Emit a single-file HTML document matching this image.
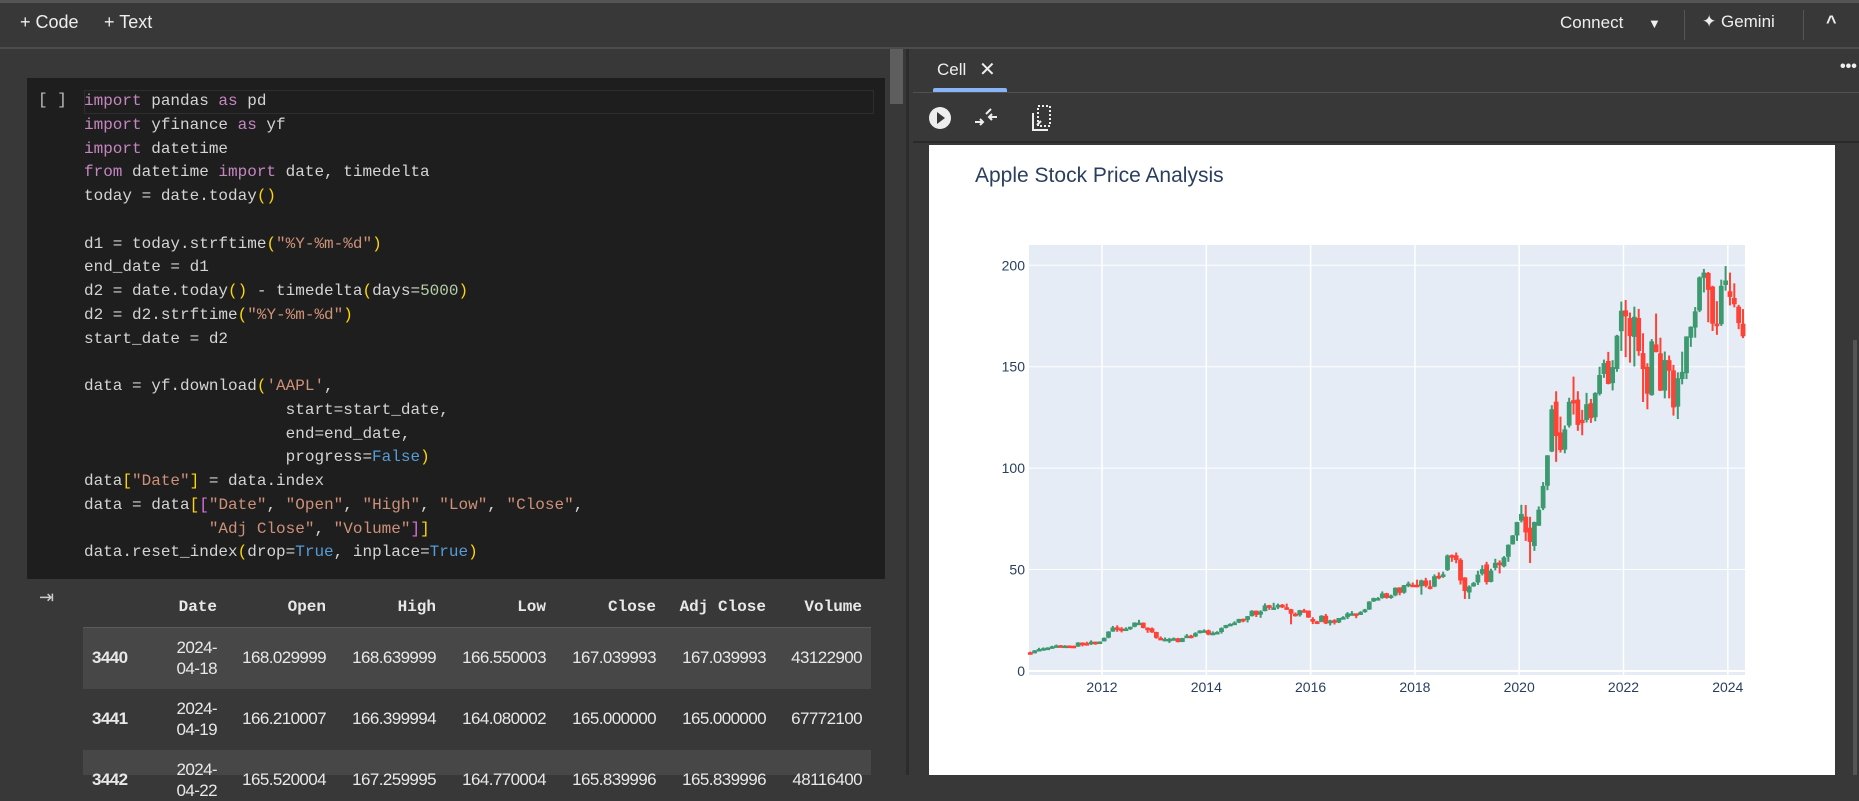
<!DOCTYPE html>
<html><head><meta charset="utf-8">
<style>
*{box-sizing:border-box;margin:0;padding:0}
body{width:1859px;height:775px;overflow:hidden;background:#383838;font-family:"Liberation Sans",sans-serif;position:relative;color:#e3e3e3}
.a{position:absolute}
.code{font-family:"Liberation Mono",monospace;font-size:16px;color:#d4d4d4;white-space:pre;line-height:23.75px}
.k{color:#c586c0}.s{color:#ce9178}.p{color:#ffd700}.n{color:#b5cea8}.b{color:#569cd6}.q{color:#da70d6}
.th{font-family:"Liberation Mono",monospace;font-weight:bold;font-size:16px;color:#e8e8e8;text-align:right}
.td{font-size:17px;color:#e8e8e8;text-align:right;letter-spacing:-0.6px}
</style></head><body>
<div class="a" style="left:0;top:0;width:1859px;height:3px;background:#555"></div>
<div class="a" style="left:20px;top:12px;font-size:18px;color:#eee">+ Code</div>
<div class="a" style="left:104px;top:12px;font-size:18px;color:#eee">+ Text</div>
<div class="a" style="left:1560px;top:13px;font-size:17px;color:#eee">Connect</div>
<div class="a" style="left:1648px;top:16px;font-size:13px;color:#eee">▼</div>
<div class="a" style="left:1684px;top:10px;width:1px;height:30px;background:#555"></div>
<div class="a" style="left:1702px;top:12px;font-size:17px;color:#eee">✦ Gemini</div>
<div class="a" style="left:1803px;top:10px;width:1px;height:30px;background:#555"></div>
<div class="a" style="left:1826px;top:12px;font-size:18px;color:#eee;font-weight:bold">^</div>
<div class="a" style="left:0;top:47px;width:1859px;height:2px;background:#4b4b4b"></div>

<div class="a" style="left:27px;top:78px;width:858px;height:501px;background:#1e1e1e"></div>
<div class="a" style="left:84px;top:90px;width:790px;height:24px;border:1px solid #2e2e2e"></div>
<div class="a" style="left:38px;top:91px;font-family:'Liberation Mono',monospace;font-size:16px;color:#bbb">[ ]</div>
<div class="a code" style="left:84px;top:90px"><span class="k">import</span> pandas <span class="k">as</span> pd
<span class="k">import</span> yfinance <span class="k">as</span> yf
<span class="k">import</span> datetime
<span class="k">from</span> datetime <span class="k">import</span> date, timedelta
today = date.today<span class="p">()</span>

d1 = today.strftime<span class="p">(</span><span class="s">"%Y-%m-%d"</span><span class="p">)</span>
end_date = d1
d2 = date.today<span class="p">()</span> - timedelta<span class="p">(</span>days=<span class="n">5000</span><span class="p">)</span>
d2 = d2.strftime<span class="p">(</span><span class="s">"%Y-%m-%d"</span><span class="p">)</span>
start_date = d2

data = yf.download<span class="p">(</span><span class="s">'AAPL'</span>,
                     start=start_date,
                     end=end_date,
                     progress=<span class="b">False</span><span class="p">)</span>
data<span class="p">[</span><span class="s">"Date"</span><span class="p">]</span> = data.index
data = data<span class="p">[</span><span class="q">[</span><span class="s">"Date"</span>, <span class="s">"Open"</span>, <span class="s">"High"</span>, <span class="s">"Low"</span>, <span class="s">"Close"</span>,
             <span class="s">"Adj Close"</span>, <span class="s">"Volume"</span><span class="q">]</span><span class="p">]</span>
data.reset_index<span class="p">(</span>drop=<span class="b">True</span>, inplace=<span class="b">True</span><span class="p">)</span></div>
<div class="a" style="left:890px;top:49px;width:13px;height:55px;background:#5e5e5e"></div>
<div class="a" style="left:906px;top:49px;width:3px;height:726px;background:#2c2c2c"></div>

<div class="a" style="left:39px;top:587px;font-size:18px;color:#ccc">⇥</div>
<div class="a" style="left:0;top:0">
<div class="a" style="left:83px;top:627px;width:788px;height:1px;background:#5a5a5a"></div>
<div class="a" style="left:83px;top:628px;width:788px;height:61px;background:#474747"></div>
<div class="a" style="left:83px;top:750px;width:788px;height:25px;background:#474747"></div>
<div class="a th" style="left:117px;top:598px;width:100px">Date</div>
<div class="a th" style="left:226px;top:598px;width:100px">Open</div>
<div class="a th" style="left:336px;top:598px;width:100px">High</div>
<div class="a th" style="left:446px;top:598px;width:100px">Low</div>
<div class="a th" style="left:556px;top:598px;width:100px">Close</div>
<div class="a th" style="left:656px;top:598px;width:110px">Adj Close</div>
<div class="a th" style="left:762px;top:598px;width:100px">Volume</div>
<div id="rows"></div>
</div>

<div class="a" style="left:937px;top:60px;font-size:17px;color:#eee">Cell</div>
<div class="a" style="left:979px;top:57px;font-size:20px;color:#eee">✕</div>
<div class="a" style="left:933px;top:88px;width:74px;height:4px;background:#8ab4f8;border-radius:2px 2px 0 0"></div>
<div class="a" style="left:1840px;top:58px;font-size:16px;color:#eee;font-weight:bold">•••</div>
<div class="a" style="left:913px;top:92px;width:946px;height:1px;background:#505050"></div>
<svg class="a" style="left:925px;top:105px" width="140" height="30">
<g><circle cx="15" cy="13" r="11" fill="#eee"/><path d="M12 7 L20 13 L12 19Z" fill="#383838"/></g>
<g stroke="#eee" stroke-width="2" fill="none"><path d="M50 17 L58 17 M55 14 L58 17 L55 20 M61 9 L66 4 M64 12 L72 12 M67 9 L64 12 L67 15"/></g>
<g stroke="#eee" stroke-width="2" fill="none"><rect x="113" y="1" width="12" height="20" stroke-dasharray="2 2"/><path d="M108 8 L108 25 L123 25"/><path d="M112 20 L116 16"/></g>
</svg>
<div class="a" style="left:913px;top:141px;width:946px;height:2px;background:#2a2a2a"></div>
<div class="a" style="left:929px;top:145px;width:906px;height:630px;background:#fff"></div>
<div class="a" style="left:1853px;top:340px;width:4px;height:435px;background:#555"></div>

<svg id="chart" class="a" style="left:0;top:0" width="1859" height="775">
<text x="975" y="182" font-family="Liberation Sans, sans-serif" font-size="21" fill="#2a3f5f">Apple Stock Price Analysis</text>
</svg>

<script>
const months=["2010-08","2010-09","2010-10","2010-11","2010-12"];
for(let y=2011;y<=2023;y++)for(let m=1;m<=12;m++)months.push(y+"-"+(m<10?"0":"")+m);
months.push("2024-01","2024-02","2024-03","2024-04");
const openVals=[9.2,8.7,10.1,10.8,11.2,
11.6,12.1,12.6,12.4,12.5,12.4,12.0,14.0,13.7,13.6,14.4,13.6,
14.6,16.4,19.4,21.5,20.9,20.6,21.0,21.8,23.7,23.8,21.3,21.0,
19.2,16.3,15.8,15.8,15.8,16.1,14.3,16.2,17.4,17.0,18.6,19.9,
20.0,17.9,18.8,19.2,21.2,22.6,23.3,23.8,25.7,25.2,27.0,29.7,
27.8,29.5,32.4,31.2,31.3,32.6,31.4,30.4,28.2,27.5,29.9,29.8,
25.6,24.4,24.2,27.2,23.5,25.0,23.9,26.1,26.5,28.3,28.4,27.6,
29.0,30.3,34.3,35.9,36.0,38.3,36.2,37.3,41.2,38.6,42.5,42.5,
42.5,41.8,44.6,41.7,41.6,46.9,46.4,49.8,57.1,57.0,54.8,46.1,
38.7,41.7,43.6,47.9,52.5,43.9,50.8,53.5,51.6,56.3,62.4,66.8,
74.1,76.1,70.6,61.6,71.6,80.2,91.3,108.2,132.8,117.6,109.1,121.0,
133.5,133.8,123.8,123.7,132.0,125.1,136.6,146.4,152.8,141.9,148.9,167.5,
177.8,174.0,164.7,174.0,156.7,149.9,136.0,161.0,156.6,138.2,153.2,148.2,
130.3,143.9,146.8,164.3,169.3,177.7,193.8,196.2,189.5,171.2,171.0,190.3,
187.2,183.9,179.6,171.2];
const highVals=[9.5,10.3,11.4,11.6,11.7,
12.4,13.0,12.8,12.7,12.6,12.5,14.2,14.1,14.4,15.1,14.5,14.6,
16.5,19.6,22.2,22.5,21.6,21.5,21.8,24.0,25.2,23.9,21.5,21.4,
19.3,17.0,16.5,16.3,16.5,16.3,16.3,18.2,17.8,19.1,20.1,20.5,
20.4,19.5,19.6,21.5,22.7,23.5,24.5,25.7,25.8,27.1,29.9,29.8,
29.9,33.3,32.6,33.6,33.2,33.0,33.2,30.6,28.8,30.1,30.6,29.8,
26.5,24.7,27.5,28.1,25.2,25.5,26.1,27.0,29.0,29.5,28.3,29.5,
30.6,34.4,36.1,36.4,39.2,38.5,37.6,41.2,41.2,42.4,44.1,43.6,
45.0,45.0,45.9,44.7,47.6,48.6,48.9,57.4,57.4,58.4,55.6,46.2,
42.2,43.9,49.4,52.1,53.8,50.4,55.3,54.5,56.6,62.4,67.0,73.5,
81.9,81.8,76.0,73.6,81.1,93.1,106.4,131.0,137.9,125.4,121.0,134.7,
145.1,137.9,128.7,137.1,134.1,137.4,150.0,153.5,157.3,153.2,165.7,182.1,
182.9,176.7,179.6,178.5,166.5,151.7,163.6,176.2,164.3,157.5,155.5,150.9,
147.2,157.4,165.0,169.9,179.4,194.5,198.2,196.7,189.9,182.3,192.9,199.6,
196.4,191.1,180.5,178.4];
const lowVals=[8.4,8.6,9.9,10.6,11.1,
11.6,12.0,11.8,11.9,11.8,11.3,11.9,12.1,12.9,12.8,12.9,13.6,
14.5,16.1,19.3,19.3,19.0,19.9,20.2,21.5,23.0,21.0,18.8,18.8,
15.9,15.4,15.0,13.8,15.4,14.1,14.2,16.2,16.1,16.7,18.5,19.5,
17.6,17.9,18.8,18.4,21.0,22.4,22.9,23.6,24.0,23.9,26.9,26.6,
26.2,29.4,30.1,30.8,30.5,31.0,30.1,23.0,26.8,26.8,29.0,26.2,
23.1,23.1,24.0,23.1,22.4,22.9,23.6,25.6,25.6,28.0,26.0,27.6,
28.7,30.1,34.0,35.0,35.6,35.6,35.6,36.8,37.3,38.1,41.3,41.6,
41.2,37.6,41.2,40.2,41.3,45.2,45.9,49.3,53.8,53.1,42.6,35.5,
35.5,41.5,42.4,47.1,42.6,43.7,49.6,48.1,51.1,53.8,62.3,64.1,
73.2,64.1,53.2,59.2,71.5,79.3,89.1,107.9,103.1,107.7,107.3,120.0,
126.4,118.4,116.2,122.5,122.3,123.1,135.8,144.5,141.3,138.3,147.5,157.8,
154.7,152.0,150.1,155.4,132.6,129.0,135.7,157.1,138.0,134.4,134.4,125.9,
124.2,141.3,143.9,159.8,164.3,176.9,186.6,171.9,167.6,165.7,170.1,187.5,
180.2,179.3,168.5,164.1];
const closeVals=[8.7,10.1,10.8,11.2,11.5,
12.1,12.6,12.4,12.5,12.4,12.0,14.0,13.7,13.6,14.4,13.6,14.5,
16.3,19.4,21.4,20.9,20.6,20.9,21.8,23.8,23.8,21.2,20.9,19.0,
16.3,15.8,15.8,15.8,16.1,14.2,16.2,17.4,17.0,18.6,19.9,20.0,
17.9,18.8,19.2,21.1,22.6,23.2,23.8,25.6,25.2,27.0,29.7,27.6,
29.3,32.3,31.1,31.3,32.6,31.4,30.3,28.2,27.6,29.9,29.8,26.3,
24.3,24.2,27.2,23.4,24.9,23.9,26.1,26.5,28.3,28.4,27.6,29.0,
30.3,34.2,35.9,35.9,38.2,36.0,37.2,41.0,38.5,42.3,43.1,42.3,
41.9,44.6,42.0,41.3,46.7,46.3,47.6,56.9,56.4,54.7,44.6,39.4,
41.6,43.3,47.5,50.2,43.8,49.5,53.3,52.2,56.0,62.2,66.8,73.4,
77.4,68.3,63.6,73.4,79.5,91.2,106.3,129.0,115.8,108.9,119.1,132.7,
131.9,121.3,122.2,131.5,124.6,137.0,145.9,151.8,141.5,149.8,165.3,177.6,
174.8,165.1,174.6,157.7,148.8,136.7,162.5,157.2,138.2,153.3,148.0,129.9,
144.3,147.4,164.9,169.7,177.3,194.0,196.4,187.9,171.2,170.8,189.9,192.5,
184.4,180.8,171.5,165.0];
const yTicks=[0,50,100,150,200];
const xTicks=[2012,2014,2016,2018,2020,2022,2024];
const tableIdx=["3440","3441","3442"];
const tableDate=["2024-04-18","2024-04-19","2024-04-22"];
const tableOpen=["168.029999","166.210007","165.520004"];
const tableHigh=["168.639999","166.399994","167.259995"];
const tableLow=["166.550003","164.080002","164.770004"];
const tableClose=["167.039993","165.000000","165.839996"];
const tableAdj=["167.039993","165.000000","165.839996"];
const tableVol=["43122900","67772100","48116400"];

const NS="http://www.w3.org/2000/svg";
const svg=document.getElementById('chart');
const PL=1029,PR=1745,PT=245,PB=675;
const X0=2010.60,X1=2024.33,Y0=-2,Y1=210;
function xs(t){return PL+(t-X0)/(X1-X0)*(PR-PL);}
function ys(v){return PB-(v-Y0)/(Y1-Y0)*(PB-PT);}
function mk(tag,attrs){const e=document.createElementNS(NS,tag);for(const k in attrs)e.setAttribute(k,attrs[k]);svg.appendChild(e);return e;}
const bg=mk('rect',{x:PL,y:PT,width:PR-PL,height:PB-PT,fill:'#e5ecf6'});


yTicks.forEach(v=>{
  const g=mk('line',{x1:PL,x2:PR,y1:ys(v),y2:ys(v),stroke:'#fff','stroke-width':v===0?2:1});
  
  
  const t=mk('text',{x:PL-4,y:ys(v)+5,'text-anchor':'end','font-family':'Liberation Sans, sans-serif','font-size':14,fill:'#2a3f5f'});
  t.textContent=v;
  
  
});
xTicks.forEach(v=>{
  const g=mk('line',{x1:xs(v),x2:xs(v),y1:PT,y2:PB,stroke:'#fff','stroke-width':1.5});
  
  
  const t=mk('text',{x:xs(v),y:PB+17,'text-anchor':'middle','font-family':'Liberation Sans, sans-serif','font-size':14,fill:'#2a3f5f'});
  t.textContent=v;
  
  
});
const step=(PR-PL)/((X1-X0)*12);
months.forEach((m,i)=>{
  const [yy,mm]=m.split('-').map(Number);
  const t=yy+(mm-1+0.5)/12;
  const cx=xs(t);
  const up=closeVals[i]>=openVals[i];
  const col=up?'#3d9970':'#ff4136';
  const w=mk('line',{x1:cx,x2:cx,y1:ys(highVals[i]),y2:ys(lowVals[i]),stroke:col,'stroke-width':2});
  
  
  const top=ys(Math.max(openVals[i],closeVals[i])),bot=ys(Math.min(openVals[i],closeVals[i]));
  const r=mk('rect',{x:cx-step*0.55,y:top,width:step*1.1,height:Math.max(2.5,bot-top),fill:col});
  
  
});
// table rows
const rows=document.getElementById('rows');
const colR=[217,326,436,546,656,766,862];
tableIdx.forEach((idx,i)=>{
  const cy=658+i*61;
  const vals=[tableOpen[i],tableHigh[i],tableLow[i],tableClose[i],tableAdj[i],tableVol[i]];
  const d=document.createElement('div');
  d.className='a';d.style.cssText='left:92px;top:'+(cy-10)+'px;font-size:17px;font-weight:bold;color:#e8e8e8;letter-spacing:-0.6px';
  d.textContent=idx;
  
  
  rows.appendChild(d);
  const dt=document.createElement('div');
  dt.className='a td';dt.style.cssText='left:157px;top:'+(cy-21)+'px;width:60px;line-height:21px';
  dt.innerHTML=tableDate[i].slice(0,5)+'<br>'+tableDate[i].slice(5);
  
  
  rows.appendChild(dt);
  vals.forEach((v,j)=>{
    const c=document.createElement('div');
    c.className='a td';c.style.cssText='left:'+(colR[j+1]-110)+'px;top:'+(cy-10)+'px;width:110px';
    c.textContent=v;
    
    
    rows.appendChild(c);
  });
});
</script>
</body></html>
